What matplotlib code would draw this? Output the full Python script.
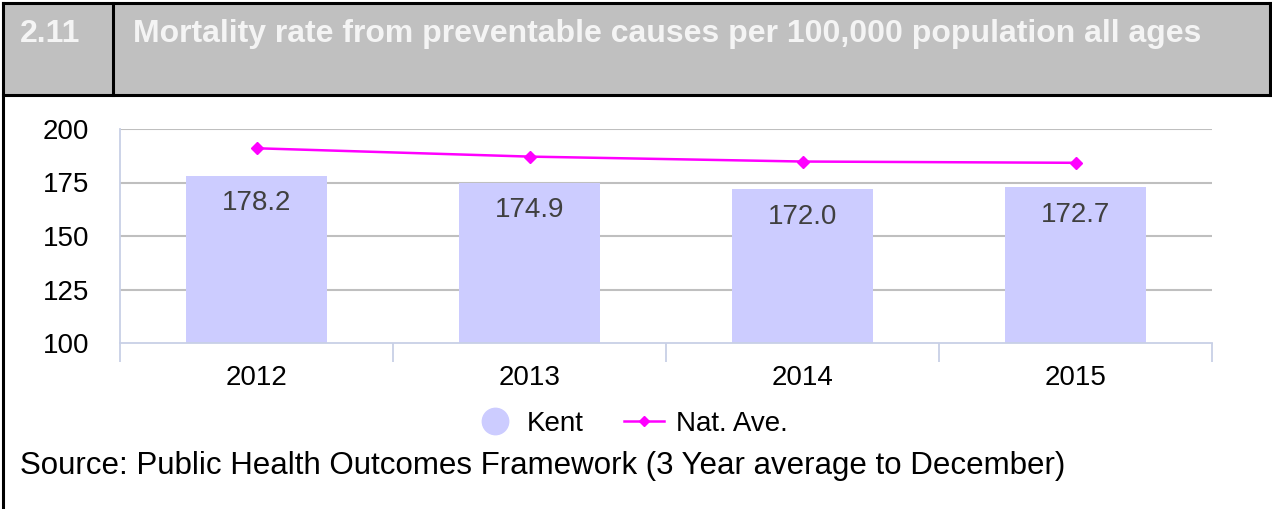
import matplotlib.pyplot as plt
from matplotlib.lines import Line2D
from matplotlib.patches import Rectangle

plt.rcParams['font.family'] = ['Liberation Sans', 'DejaVu Sans']

years = ["2012", "2013", "2014", "2015"]
kent = [178.2, 174.9, 172.0, 172.7]
nat_ave = [191.0, 187.1, 184.8, 184.2]
y_ticks = [100, 125, 150, 175, 200]

W, H = 1272, 509


def fx(px):
    return px / W


def fy(py):
    return 1 - py / H


def main():
    fig = plt.figure(figsize=(W / 100, H / 100), dpi=100)

    # header band + frame
    fig.add_artist(Rectangle((fx(3), fy(95)), fx(1270) - fx(3), fy(3) - fy(95),
                             transform=fig.transFigure, facecolor="#c0c0c0",
                             edgecolor="none"))
    for xs, ys in [((3, 1270), (3, 3)), ((3, 1270), (95, 95)),
                   ((113, 113), (3, 95)), ((3, 3), (3, 509)), ((1270, 1270), (3, 95))]:
        fig.add_artist(Line2D([fx(x) for x in xs], [fy(y) for y in ys],
                              transform=fig.transFigure, color="black", lw=2.2))
    fig.text(fx(20), fy(34), "2.11", color="#f4f4f4", fontsize=23,
             fontweight="bold", va="center", ha="left")
    fig.text(fx(133), fy(34),
             "Mortality rate from preventable causes per 100,000 population all ages",
             color="#f4f4f4", fontsize=23, fontweight="bold", va="center", ha="left")

    ax = fig.add_axes([fx(120), fy(343), fx(1212) - fx(120), fy(129) - fy(343)])
    x = range(len(years))
    bars = ax.bar(x, kent, width=0.516, color="#ccccff", zorder=2)
    ax.plot(x, nat_ave, color="#ff00ff", lw=1.8, marker="D", markersize=6, zorder=3)

    for b, v in zip(bars, kent):
        ax.annotate(f"{v:.1f}", (b.get_x() + b.get_width() / 2, v),
                    xytext=(0, -20), textcoords="offset points",
                    ha="center", va="center", fontsize=20, color="#404040")

    ax.set_ylim(100, 200)
    ax.set_xlim(-0.5, 3.5)
    ax.set_yticks(y_ticks)
    ax.set_xticks(list(x))
    ax.set_xticklabels(years)
    ax.set_xticks([-0.5, 0.5, 1.5, 2.5, 3.5], minor=True)
    ax.tick_params(axis="y", length=0, pad=22, labelsize=20)
    ax.tick_params(axis="x", which="major", length=0, pad=16, labelsize=20)
    ax.tick_params(axis="x", which="minor", length=13.5, width=1.3,
                   color="#c8d0e6", direction="out")
    for g in y_ticks[1:]:
        ax.axhline(g, color="#bfbfbf", lw=1.5, zorder=1)
    for s in ["top", "right"]:
        ax.spines[s].set_visible(False)
    for s in ["left", "bottom"]:
        ax.spines[s].set_color("#c8d0e6")
        ax.spines[s].set_linewidth(1.3)

    handles = [
        Line2D([], [], ls="none", marker="o", markersize=19, color="#ccccff"),
        Line2D([], [], color="#ff00ff", lw=1.8, marker="D", markersize=5),
    ]
    fig.legend(handles, ["Kent", "Nat. Ave."], loc="center",
               bbox_to_anchor=(fx(631), fy(424)), ncol=2, frameon=False,
               fontsize=20, handlelength=1.44, columnspacing=1.44, handletextpad=0.43)

    fig.text(fx(20), fy(466),
             "Source: Public Health Outcomes Framework (3 Year average to December)",
             fontsize=22.5, va="center", ha="left", color="black")

    fig.savefig("out.png", dpi=100)


if __name__ == "__main__":
    main()
